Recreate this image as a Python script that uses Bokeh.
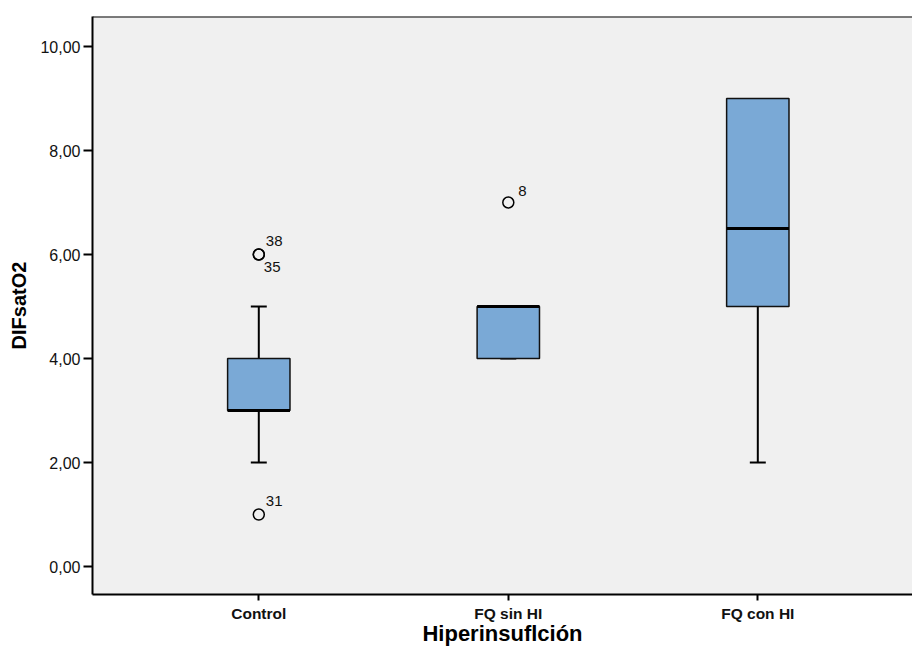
from bokeh.plotting import figure
from bokeh.models import FixedTicker, Span, ColumnDataSource
from bokeh.core.properties import value
from bokeh.embed import file_html
from bokeh.resources import INLINE

# Box plot summary of DIFsatO2 for each hyperinflation group
groups = ["Control", "FQ sin HI", "FQ con HI"]
q1 = [3.0, 4.0, 5.0]
median = [3.0, 5.0, 6.5]
q3 = [4.0, 5.0, 9.0]
whisker_low = [2.0, 4.0, 2.0]
whisker_high = [5.0, 5.0, 9.0]

# Outlying cases, with their case numbers
outlier_group = ["Control", "Control", "Control", "FQ sin HI"]
outlier_value = [6.0, 6.0, 1.0, 7.0]
outlier_case = ["38", "35", "31", "8"]

y_ticks = [0, 2, 4, 6, 8, 10]
y_tick_labels = ["0,00", "2,00", "4,00", "6,00", "8,00", "10,00"]

FONT = "Liberation Sans"
BOX_W = 0.25
CAP_W = 0.064

pos = [groups.index(g) + 1 for g in groups]
y_start, y_end = -0.538, 10.577

p = figure(width=912, height=652, output_backend="svg", toolbar_location=None,
           x_range=(0.3335, 3.620), y_range=(y_start, y_end),
           min_border_left=92, min_border_right=0, min_border_top=16,
           min_border_bottom=58)
p.background_fill_color = "#F0F0F0"
p.border_fill_color = "white"
p.outline_line_color = None
p.xgrid.visible = False
p.ygrid.visible = False

box_src = ColumnDataSource(dict(x=pos, q1=q1, q3=q3, med=median,
                                lo=whisker_low, hi=whisker_high,
                                xl=[x - BOX_W / 2 for x in pos],
                                xr=[x + BOX_W / 2 for x in pos],
                                cl=[x - CAP_W / 2 for x in pos],
                                cr=[x + CAP_W / 2 for x in pos]))

# upper caps only where the whisker reaches past the box
upper = [i for i in range(len(pos)) if whisker_high[i] > q3[i]]
upper_src = ColumnDataSource(dict(cl=[pos[i] - CAP_W / 2 for i in upper],
                                  cr=[pos[i] + CAP_W / 2 for i in upper],
                                  hi=[whisker_high[i] for i in upper]))

# whisker stems and caps
p.segment(x0="x", y0="q3", x1="x", y1="hi", source=box_src, line_color="black", line_width=2)
p.segment(x0="x", y0="q1", x1="x", y1="lo", source=box_src, line_color="black", line_width=2)
p.segment(x0="cl", y0="hi", x1="cr", y1="hi", source=upper_src, line_color="black", line_width=2)
p.segment(x0="cl", y0="lo", x1="cr", y1="lo", source=box_src, line_color="black", line_width=2)

# boxes and medians
p.vbar(x="x", width=BOX_W, bottom="q1", top="q3", source=box_src,
       fill_color="#7AA9D6", line_color="#111111", line_width=1.5)
p.segment(x0="xl", y0="med", x1="xr", y1="med", source=box_src,
          line_color="black", line_width=3)

# outliers, labelled with their case numbers
out_x = [groups.index(g) + 1 for g in outlier_group]
dx = [7, 5, 7, 10]
dy = [-14, 12, -13.5, -12]
out_src = ColumnDataSource(dict(x=out_x, y=outlier_value, case=outlier_case, dx=dx, dy=dy))
p.scatter(x="x", y="y", source=out_src, marker="circle", size=11,
          fill_color=None, line_color="black", line_width=1.5)
p.text(x="x", y="y", text="case", source=out_src, x_offset="dx", y_offset="dy",
       text_font=value(FONT), text_font_size="15px", text_color="#111111",
       text_baseline="alphabetic", text_align="left")

# frame top edge
p.add_layout(Span(location=y_end, dimension="width", line_color="black", line_width=2))

# axes
for ax in (p.xaxis[0], p.yaxis[0]):
    ax.axis_line_width = 2
    ax.major_tick_line_width = 2
    ax.major_tick_in = 0
    ax.minor_tick_line_color = None
    ax.axis_label_text_font = FONT
    ax.axis_label_text_font_style = "bold"
    ax.axis_label_text_color = "black"
    ax.major_label_text_font = FONT
    ax.major_label_text_color = "#111111"

p.yaxis.ticker = FixedTicker(ticks=y_ticks)
p.yaxis.major_label_overrides = dict(zip(y_ticks, y_tick_labels))
p.yaxis.major_tick_out = 9
p.yaxis.major_label_standoff = 3
p.yaxis.major_label_text_font_size = "16px"
p.yaxis.axis_label = "DIFsatO2"
p.yaxis.axis_label_text_font_size = "20px"
p.yaxis.axis_label_standoff = 7

p.xaxis.ticker = FixedTicker(ticks=pos)
p.xaxis.major_label_overrides = dict(zip(pos, groups))
p.xaxis.major_tick_out = 6
p.xaxis.major_label_standoff = 4
p.xaxis.major_label_text_font_size = "15.5px"
p.xaxis.major_label_text_font_style = "bold"
p.xaxis.axis_label = "Hiperinsuflción"
p.xaxis.axis_label_text_font_size = "22px"
p.xaxis.axis_label_standoff = -4

open("out.html", "w").write(file_html(p, INLINE))
